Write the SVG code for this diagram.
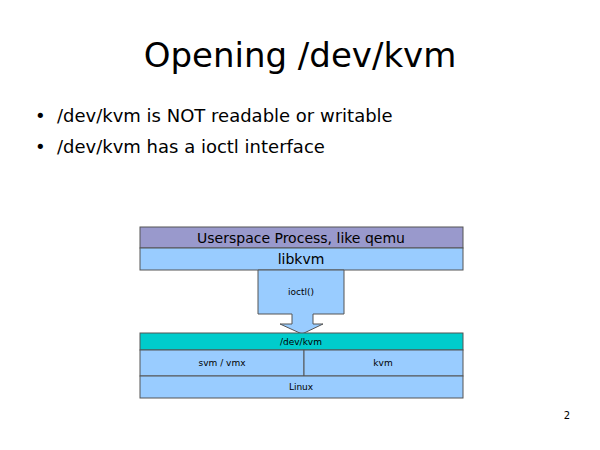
<svg xmlns="http://www.w3.org/2000/svg" width="600" height="450" viewBox="0 0 600 450">
<style>
text{font-family:"DejaVu Sans",sans-serif;fill:#000}
.b{stroke:#555;stroke-width:1}
.blue{fill:#99ccff}
.s{font-size:9px;text-anchor:middle}
</style>
<rect width="600" height="450" fill="#fff"/>
<text x="300" y="67" font-size="34" text-anchor="middle">Opening /dev/kvm</text>
<text x="35" y="122" font-size="18">•</text><text x="57" y="122" font-size="18">/dev/kvm is NOT readable or writable</text>
<text x="35" y="153" font-size="18">•</text><text x="57" y="153" font-size="18">/dev/kvm has a ioctl interface</text>
<g id="userspace"><rect class="b" x="140" y="227" width="323" height="21" fill="#9999cc"/><text x="301" y="243" font-size="14" text-anchor="middle">Userspace Process, like qemu</text></g>
<g id="libkvm"><rect class="b blue" x="140" y="248" width="323" height="22"/><text x="301" y="264" font-size="14" text-anchor="middle">libkvm</text></g>
<g id="connectors"><path class="b blue" d="M258,270 H344 V314 H313 V324 H323 L302,334 L280,324 H292 V314 H258 Z"/><text class="s" x="301" y="295">ioctl()</text></g>
<g id="devkvm"><rect class="b" x="140" y="333" width="323" height="17" fill="#00cccc"/><text class="s" x="301" y="345">/dev/kvm</text></g>
<g id="svm"><rect class="b blue" x="140" y="350" width="164" height="26"/><text class="s" x="222" y="366">svm / vmx</text></g>
<g id="kvm"><rect class="b blue" x="304" y="350" width="159" height="26"/><text class="s" x="383" y="366">kvm</text></g>
<g id="linux"><rect class="b blue" x="140" y="376" width="323" height="22"/><text class="s" x="301" y="390">Linux</text></g>
<text x="567" y="419" font-size="10" text-anchor="middle">2</text>
</svg>
